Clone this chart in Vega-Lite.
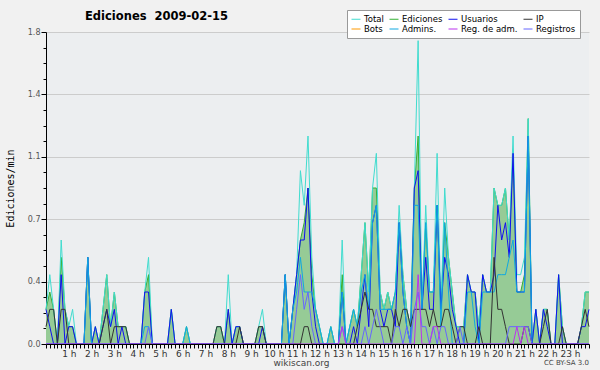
{
"$schema":"https://vega.github.io/schema/vega-lite/v6.json",
"width":543,"height":312,
"autosize":"none",
"padding":{"left":46,"top":32,"right":11,"bottom":26},
"background":"#f1f1f1",
"config":{"view":{"stroke":null,"fill":"#eceef0"},"font":"DejaVu Sans"},
"title":{"text":"Ediciones \u00a02009-02-15","anchor":"start","frame":"group","dx":39,"dy":22,"fontSize":11.5,"font":"DejaVu Sans","fontWeight":"bold","color":"#000","offset":9},
"data":{"values":[
{"b":0,"tot":0.2,"edi":0.2,"usu":0.2,"ip":0.1,"adm":0,"rad":0,"reg":0},
{"b":1,"tot":0.4,"edi":0.3,"usu":0.1,"ip":0.2,"adm":0,"rad":0,"reg":0},
{"b":2,"tot":0.2,"edi":0.2,"usu":0,"ip":0.2,"adm":0,"rad":0,"reg":0},
{"b":3,"tot":0,"edi":0,"usu":0,"ip":0,"adm":0,"rad":0,"reg":0},
{"b":4,"tot":0.6,"edi":0.5,"usu":0.4,"ip":0.2,"adm":0,"rad":0,"reg":0},
{"b":5,"tot":0.2,"edi":0.2,"usu":0,"ip":0.2,"adm":0,"rad":0,"reg":0},
{"b":6,"tot":0.1,"edi":0.1,"usu":0.1,"ip":0,"adm":0,"rad":0,"reg":0},
{"b":7,"tot":0.2,"edi":0.1,"usu":0.1,"ip":0,"adm":0,"rad":0,"reg":0},
{"b":8,"tot":0,"edi":0,"usu":0,"ip":0,"adm":0,"rad":0,"reg":0},
{"b":9,"tot":0,"edi":0,"usu":0,"ip":0,"adm":0,"rad":0,"reg":0},
{"b":10,"tot":0,"edi":0,"usu":0,"ip":0,"adm":0,"rad":0,"reg":0},
{"b":11,"tot":0.5,"edi":0.5,"usu":0.5,"ip":0,"adm":0.5,"rad":0,"reg":0},
{"b":12,"tot":0,"edi":0,"usu":0,"ip":0,"adm":0,"rad":0,"reg":0},
{"b":13,"tot":0.1,"edi":0.1,"usu":0.1,"ip":0,"adm":0,"rad":0,"reg":0},
{"b":14,"tot":0,"edi":0,"usu":0,"ip":0,"adm":0,"rad":0,"reg":0},
{"b":15,"tot":0.2,"edi":0.2,"usu":0.1,"ip":0.1,"adm":0,"rad":0,"reg":0},
{"b":16,"tot":0.4,"edi":0.4,"usu":0.2,"ip":0.2,"adm":0,"rad":0,"reg":0},
{"b":17,"tot":0.1,"edi":0.1,"usu":0.1,"ip":0,"adm":0,"rad":0,"reg":0},
{"b":18,"tot":0.3,"edi":0.3,"usu":0.2,"ip":0.1,"adm":0,"rad":0,"reg":0},
{"b":19,"tot":0.1,"edi":0.1,"usu":0,"ip":0.1,"adm":0,"rad":0,"reg":0},
{"b":20,"tot":0.1,"edi":0.1,"usu":0.1,"ip":0.1,"adm":0,"rad":0,"reg":0},
{"b":21,"tot":0.1,"edi":0.1,"usu":0,"ip":0.1,"adm":0,"rad":0,"reg":0},
{"b":22,"tot":0,"edi":0,"usu":0,"ip":0,"adm":0,"rad":0,"reg":0},
{"b":23,"tot":0,"edi":0,"usu":0,"ip":0,"adm":0,"rad":0,"reg":0},
{"b":24,"tot":0,"edi":0,"usu":0,"ip":0,"adm":0,"rad":0,"reg":0},
{"b":25,"tot":0,"edi":0,"usu":0,"ip":0,"adm":0,"rad":0,"reg":0},
{"b":26,"tot":0.3,"edi":0.3,"usu":0.3,"ip":0,"adm":0.1,"rad":0,"reg":0},
{"b":27,"tot":0.5,"edi":0.4,"usu":0.3,"ip":0,"adm":0.1,"rad":0,"reg":0.1},
{"b":28,"tot":0,"edi":0,"usu":0,"ip":0,"adm":0,"rad":0,"reg":0},
{"b":29,"tot":0,"edi":0,"usu":0,"ip":0,"adm":0,"rad":0,"reg":0},
{"b":30,"tot":0,"edi":0,"usu":0,"ip":0,"adm":0,"rad":0,"reg":0},
{"b":31,"tot":0,"edi":0,"usu":0,"ip":0,"adm":0,"rad":0,"reg":0},
{"b":32,"tot":0,"edi":0,"usu":0,"ip":0,"adm":0,"rad":0,"reg":0},
{"b":33,"tot":0.2,"edi":0.2,"usu":0.2,"ip":0,"adm":0,"rad":0,"reg":0},
{"b":34,"tot":0,"edi":0,"usu":0,"ip":0,"adm":0,"rad":0,"reg":0},
{"b":35,"tot":0,"edi":0,"usu":0,"ip":0,"adm":0,"rad":0,"reg":0},
{"b":36,"tot":0,"edi":0,"usu":0,"ip":0,"adm":0,"rad":0,"reg":0},
{"b":37,"tot":0.1,"edi":0.1,"usu":0,"ip":0,"adm":0.1,"rad":0,"reg":0},
{"b":38,"tot":0,"edi":0,"usu":0,"ip":0,"adm":0,"rad":0,"reg":0},
{"b":39,"tot":0,"edi":0,"usu":0,"ip":0,"adm":0,"rad":0,"reg":0},
{"b":40,"tot":0,"edi":0,"usu":0,"ip":0,"adm":0,"rad":0,"reg":0},
{"b":41,"tot":0,"edi":0,"usu":0,"ip":0,"adm":0,"rad":0,"reg":0},
{"b":42,"tot":0,"edi":0,"usu":0,"ip":0,"adm":0,"rad":0,"reg":0},
{"b":43,"tot":0,"edi":0,"usu":0,"ip":0,"adm":0,"rad":0,"reg":0},
{"b":44,"tot":0,"edi":0,"usu":0,"ip":0,"adm":0,"rad":0,"reg":0},
{"b":45,"tot":0.1,"edi":0.1,"usu":0,"ip":0.1,"adm":0,"rad":0,"reg":0},
{"b":46,"tot":0.1,"edi":0.1,"usu":0,"ip":0.1,"adm":0,"rad":0,"reg":0},
{"b":47,"tot":0,"edi":0,"usu":0,"ip":0,"adm":0,"rad":0,"reg":0},
{"b":48,"tot":0.4,"edi":0.2,"usu":0.2,"ip":0,"adm":0,"rad":0,"reg":0},
{"b":49,"tot":0,"edi":0,"usu":0,"ip":0,"adm":0,"rad":0,"reg":0},
{"b":50,"tot":0.1,"edi":0.1,"usu":0.1,"ip":0,"adm":0,"rad":0,"reg":0},
{"b":51,"tot":0.1,"edi":0.1,"usu":0.1,"ip":0.1,"adm":0,"rad":0,"reg":0},
{"b":52,"tot":0,"edi":0,"usu":0,"ip":0,"adm":0,"rad":0,"reg":0},
{"b":53,"tot":0,"edi":0,"usu":0,"ip":0,"adm":0,"rad":0,"reg":0},
{"b":54,"tot":0,"edi":0,"usu":0,"ip":0,"adm":0,"rad":0,"reg":0},
{"b":55,"tot":0,"edi":0,"usu":0,"ip":0,"adm":0,"rad":0,"reg":0},
{"b":56,"tot":0.1,"edi":0.1,"usu":0,"ip":0.1,"adm":0,"rad":0,"reg":0},
{"b":57,"tot":0.2,"edi":0.1,"usu":0.1,"ip":0.1,"adm":0,"rad":0,"reg":0},
{"b":58,"tot":0,"edi":0,"usu":0,"ip":0,"adm":0,"rad":0,"reg":0},
{"b":59,"tot":0,"edi":0,"usu":0,"ip":0,"adm":0,"rad":0,"reg":0},
{"b":60,"tot":0,"edi":0,"usu":0,"ip":0,"adm":0,"rad":0,"reg":0},
{"b":61,"tot":0,"edi":0,"usu":0,"ip":0,"adm":0,"rad":0,"reg":0},
{"b":62,"tot":0,"edi":0,"usu":0,"ip":0,"adm":0,"rad":0,"reg":0},
{"b":63,"tot":0.4,"edi":0.4,"usu":0.4,"ip":0,"adm":0.4,"rad":0,"reg":0},
{"b":64,"tot":0,"edi":0,"usu":0,"ip":0,"adm":0,"rad":0,"reg":0},
{"b":65,"tot":0.2,"edi":0.2,"usu":0.2,"ip":0,"adm":0.2,"rad":0,"reg":0},
{"b":66,"tot":0.4,"edi":0.4,"usu":0.4,"ip":0,"adm":0.3,"rad":0,"reg":0.2},
{"b":67,"tot":1.0,"edi":0.6,"usu":0.6,"ip":0,"adm":0.5,"rad":0,"reg":0.4},
{"b":68,"tot":0.8,"edi":0.7,"usu":0.6,"ip":0.1,"adm":0.3,"rad":0,"reg":0.2},
{"b":69,"tot":1.2,"edi":0.9,"usu":0.9,"ip":0.1,"adm":0.3,"rad":0,"reg":0.3},
{"b":70,"tot":0.5,"edi":0.4,"usu":0.3,"ip":0,"adm":0.3,"rad":0,"reg":0.1},
{"b":71,"tot":0.2,"edi":0.2,"usu":0.1,"ip":0,"adm":0.2,"rad":0,"reg":0},
{"b":72,"tot":0.1,"edi":0.1,"usu":0,"ip":0,"adm":0.1,"rad":0,"reg":0},
{"b":73,"tot":0,"edi":0,"usu":0,"ip":0,"adm":0,"rad":0,"reg":0},
{"b":74,"tot":0,"edi":0,"usu":0,"ip":0,"adm":0,"rad":0,"reg":0},
{"b":75,"tot":0.1,"edi":0.1,"usu":0,"ip":0,"adm":0.1,"rad":0,"reg":0},
{"b":76,"tot":0,"edi":0,"usu":0,"ip":0,"adm":0,"rad":0,"reg":0},
{"b":77,"tot":0,"edi":0,"usu":0,"ip":0,"adm":0,"rad":0,"reg":0},
{"b":78,"tot":0.6,"edi":0.4,"usu":0.3,"ip":0,"adm":0.3,"rad":0.1,"reg":0.1},
{"b":79,"tot":0,"edi":0,"usu":0,"ip":0,"adm":0,"rad":0,"reg":0},
{"b":80,"tot":0.1,"edi":0.1,"usu":0,"ip":0,"adm":0.1,"rad":0,"reg":0},
{"b":81,"tot":0.2,"edi":0.2,"usu":0.1,"ip":0,"adm":0.2,"rad":0,"reg":0},
{"b":82,"tot":0.1,"edi":0.1,"usu":0,"ip":0.1,"adm":0.1,"rad":0,"reg":0},
{"b":83,"tot":0.4,"edi":0.4,"usu":0.2,"ip":0.2,"adm":0.3,"rad":0,"reg":0},
{"b":84,"tot":0.7,"edi":0.7,"usu":0.4,"ip":0.3,"adm":0.4,"rad":0,"reg":0.1},
{"b":85,"tot":0.3,"edi":0.3,"usu":0.1,"ip":0.2,"adm":0.2,"rad":0,"reg":0},
{"b":86,"tot":0.9,"edi":0.9,"usu":0.7,"ip":0.2,"adm":0.7,"rad":0,"reg":0.1},
{"b":87,"tot":1.1,"edi":0.9,"usu":0.8,"ip":0.1,"adm":0.8,"rad":0,"reg":0.2},
{"b":88,"tot":0.3,"edi":0.3,"usu":0.2,"ip":0.1,"adm":0.2,"rad":0,"reg":0.1},
{"b":89,"tot":0.2,"edi":0.2,"usu":0.1,"ip":0.1,"adm":0.2,"rad":0,"reg":0},
{"b":90,"tot":0.3,"edi":0.3,"usu":0.2,"ip":0.1,"adm":0.2,"rad":0,"reg":0},
{"b":91,"tot":0.2,"edi":0.2,"usu":0.2,"ip":0,"adm":0.2,"rad":0,"reg":0},
{"b":92,"tot":0.3,"edi":0.3,"usu":0.1,"ip":0.2,"adm":0.3,"rad":0,"reg":0.1},
{"b":93,"tot":0.8,"edi":0.7,"usu":0.7,"ip":0.1,"adm":0.7,"rad":0,"reg":0.1},
{"b":94,"tot":0.4,"edi":0.4,"usu":0.3,"ip":0.2,"adm":0.3,"rad":0,"reg":0},
{"b":95,"tot":0.2,"edi":0.2,"usu":0.1,"ip":0.2,"adm":0.1,"rad":0,"reg":0.1},
{"b":96,"tot":0.1,"edi":0.1,"usu":0,"ip":0.1,"adm":0,"rad":0,"reg":0},
{"b":97,"tot":0.9,"edi":0.9,"usu":0.9,"ip":0.2,"adm":0.8,"rad":0,"reg":0.2},
{"b":98,"tot":1.75,"edi":1.2,"usu":1.0,"ip":0.2,"adm":0.8,"rad":0.4,"reg":0.3},
{"b":99,"tot":0.2,"edi":0.2,"usu":0.2,"ip":0.2,"adm":0.2,"rad":0,"reg":0.1},
{"b":100,"tot":0.8,"edi":0.7,"usu":0.5,"ip":0.2,"adm":0.7,"rad":0,"reg":0.1},
{"b":101,"tot":0.3,"edi":0.3,"usu":0.2,"ip":0.1,"adm":0.3,"rad":0,"reg":0},
{"b":102,"tot":0.3,"edi":0.3,"usu":0.2,"ip":0.2,"adm":0.3,"rad":0.1,"reg":0.1},
{"b":103,"tot":1.1,"edi":0.8,"usu":0.8,"ip":0.1,"adm":0.8,"rad":0.1,"reg":0},
{"b":104,"tot":0.2,"edi":0.2,"usu":0.2,"ip":0.1,"adm":0.1,"rad":0,"reg":0.1},
{"b":105,"tot":0.9,"edi":0.7,"usu":0.5,"ip":0.2,"adm":0.7,"rad":0,"reg":0.1},
{"b":106,"tot":0.5,"edi":0.5,"usu":0.4,"ip":0.2,"adm":0.3,"rad":0,"reg":0},
{"b":107,"tot":0.3,"edi":0.3,"usu":0.2,"ip":0.1,"adm":0,"rad":0,"reg":0},
{"b":108,"tot":0.1,"edi":0.1,"usu":0.1,"ip":0,"adm":0,"rad":0,"reg":0},
{"b":109,"tot":0.1,"edi":0.1,"usu":0,"ip":0.1,"adm":0,"rad":0,"reg":0.1},
{"b":110,"tot":0.1,"edi":0.1,"usu":0,"ip":0.1,"adm":0,"rad":0,"reg":0},
{"b":111,"tot":0.4,"edi":0.4,"usu":0.4,"ip":0,"adm":0.3,"rad":0,"reg":0},
{"b":112,"tot":0.3,"edi":0.3,"usu":0.3,"ip":0,"adm":0.3,"rad":0,"reg":0},
{"b":113,"tot":0.3,"edi":0.3,"usu":0.3,"ip":0,"adm":0.1,"rad":0,"reg":0},
{"b":114,"tot":0.1,"edi":0.1,"usu":0,"ip":0.1,"adm":0,"rad":0,"reg":0},
{"b":115,"tot":0.4,"edi":0.4,"usu":0.4,"ip":0,"adm":0.3,"rad":0,"reg":0},
{"b":116,"tot":0.3,"edi":0.3,"usu":0.3,"ip":0,"adm":0.3,"rad":0,"reg":0},
{"b":117,"tot":0.3,"edi":0.3,"usu":0.3,"ip":0,"adm":0.3,"rad":0,"reg":0},
{"b":118,"tot":0.9,"edi":0.9,"usu":0.4,"ip":0.5,"adm":0.3,"rad":0,"reg":0},
{"b":119,"tot":0.8,"edi":0.8,"usu":0.8,"ip":0.2,"adm":0.4,"rad":0,"reg":0},
{"b":120,"tot":0.8,"edi":0.8,"usu":0.6,"ip":0.2,"adm":0.4,"rad":0,"reg":0},
{"b":121,"tot":0.9,"edi":0.9,"usu":0.7,"ip":0.1,"adm":0.4,"rad":0,"reg":0},
{"b":122,"tot":0.6,"edi":0.6,"usu":0.5,"ip":0,"adm":0.5,"rad":0,"reg":0.1},
{"b":123,"tot":1.2,"edi":1.1,"usu":1.1,"ip":0,"adm":0.6,"rad":0,"reg":0.1},
{"b":124,"tot":0.4,"edi":0.3,"usu":0.3,"ip":0,"adm":0.3,"rad":0.1,"reg":0.1},
{"b":125,"tot":0.4,"edi":0.3,"usu":0.3,"ip":0,"adm":0.3,"rad":0,"reg":0.1},
{"b":126,"tot":0.5,"edi":0.4,"usu":0.3,"ip":0.1,"adm":0.3,"rad":0.1,"reg":0.1},
{"b":127,"tot":1.3,"edi":1.3,"usu":1.2,"ip":0.1,"adm":1.2,"rad":0,"reg":0.1},
{"b":128,"tot":0,"edi":0,"usu":0,"ip":0,"adm":0,"rad":0,"reg":0},
{"b":129,"tot":0.2,"edi":0.2,"usu":0.2,"ip":0,"adm":0,"rad":0,"reg":0},
{"b":130,"tot":0,"edi":0,"usu":0,"ip":0,"adm":0,"rad":0,"reg":0},
{"b":131,"tot":0.2,"edi":0.2,"usu":0.2,"ip":0.1,"adm":0,"rad":0,"reg":0},
{"b":132,"tot":0.2,"edi":0.2,"usu":0.1,"ip":0.2,"adm":0,"rad":0,"reg":0},
{"b":133,"tot":0,"edi":0,"usu":0,"ip":0,"adm":0,"rad":0,"reg":0},
{"b":134,"tot":0,"edi":0,"usu":0,"ip":0,"adm":0,"rad":0,"reg":0},
{"b":135,"tot":0.4,"edi":0.4,"usu":0.4,"ip":0,"adm":0,"rad":0,"reg":0},
{"b":136,"tot":0.1,"edi":0.1,"usu":0,"ip":0.1,"adm":0,"rad":0,"reg":0},
{"b":137,"tot":0,"edi":0,"usu":0,"ip":0,"adm":0,"rad":0,"reg":0},
{"b":138,"tot":0,"edi":0,"usu":0,"ip":0,"adm":0,"rad":0,"reg":0},
{"b":139,"tot":0,"edi":0,"usu":0,"ip":0,"adm":0,"rad":0,"reg":0},
{"b":140,"tot":0,"edi":0,"usu":0,"ip":0,"adm":0,"rad":0,"reg":0},
{"b":141,"tot":0.1,"edi":0.1,"usu":0.1,"ip":0.1,"adm":0,"rad":0,"reg":0},
{"b":142,"tot":0.3,"edi":0.3,"usu":0.1,"ip":0.2,"adm":0,"rad":0,"reg":0},
{"b":143,"tot":0.3,"edi":0.3,"usu":0.2,"ip":0.1,"adm":0,"rad":0,"reg":0}
]},
"encoding":{
"x":{"field":"b","type":"quantitative","scale":{"domain":[0,143],"nice":false,"zero":false},
"axis":{"title":"wikiscan.org","titleFont":"DejaVu Sans","titleFontSize":9,"titleFontWeight":"normal","titleColor":"#444","titleX":255,"titleY":18,"titleBaseline":"middle","titleAlign":"center","tickCount":143,"labelExpr":"datum.value > 0 && datum.value % 6 == 0 ? (datum.value / 6) + ' h' : ''","labelFontSize":9,"labelColor":"#333","labelPadding":1,"labelFlush":false,"labelOverlap":false,"tickSize":4,"tickColor":"#000","domainColor":"#000","grid":false,"zindex":1}},
"y":{"field":"v","type":"quantitative","scale":{"domain":[0,1.8],"nice":false},
"axis":{"title":"Ediciones/min","titleFont":"DejaVu Sans Mono","titleFontSize":10,"titleFontWeight":"normal","titleColor":"#000","titleX":-36,"titleBaseline":"middle",
"values":[0,0.09,0.18,0.27,0.36,0.45,0.54,0.63,0.72,0.81,0.9,0.99,1.08,1.17,1.26,1.35,1.44,1.53,1.62,1.71,1.8],
"labelExpr":"abs(datum.value/0.36 - round(datum.value/0.36)) < 0.01 ? format(datum.value, '.1f') : ''",
"labelFontSize":8,"labelColor":"#555","labelPadding":1,"labelFlush":false,"labelOverlap":false,"tickColor":"#000","domainColor":"#000",
"tickSize":{"condition":{"test":"abs(datum.value/0.36 - round(datum.value/0.36)) < 0.01","value":5},"value":3},
"grid":true,"gridColor":"#cccccc",
"gridOpacity":{"condition":{"test":"abs(datum.value/0.36 - round(datum.value/0.36)) < 0.01","value":1},"value":0}}}
},
"layer":[
{"transform":[{"fold":["edi"],"as":["s","v"]}],
 "mark":{"type":"area","fill":"#96cb96","interpolate":"linear"}},
{"transform":[{"fold":["edi","tot","usu","adm","ip","reg","rad"],"as":["s","v"]}],
 "mark":{"type":"line","strokeWidth":1,"interpolate":"linear"},
 "encoding":{"color":{"field":"s","type":"nominal",
  "scale":{"domain":["tot","edi","usu","ip","bots","adm","rad","reg"],"range":["#40dccf","#33b033","#1010f0","#333333","#ff9900","#10a8e0","#bb33ee","#6666ff"]},
  "legend":{"orient":"none","legendX":301,"legendY":-22,"columns":4,"direction":"horizontal","title":null,"symbolType":"stroke","symbolSize":81,"symbolStrokeWidth":1,"labelFontSize":8.5,"labelFont":"DejaVu Sans","labelColor":"#000","fillColor":"#ffffff","strokeColor":"#999999","padding":4,"rowPadding":-2,"columnPadding":3,"labelOffset":3,
  "labelExpr":"{'tot':'Total','edi':'Ediciones','usu':'Usuarios','ip':'IP','bots':'Bots','adm':'Admins.','rad':'Reg. de adm.','reg':'Registros'}[datum.label]"}}}},
{"data":{"values":[{"b":143,"v":0,"t":"CC BY-SA 3.0"}]},
 "mark":{"type":"text","align":"right","baseline":"middle","dy":19,"fontSize":7,"color":"#444"},
 "encoding":{"text":{"field":"t"}}}
]
}
